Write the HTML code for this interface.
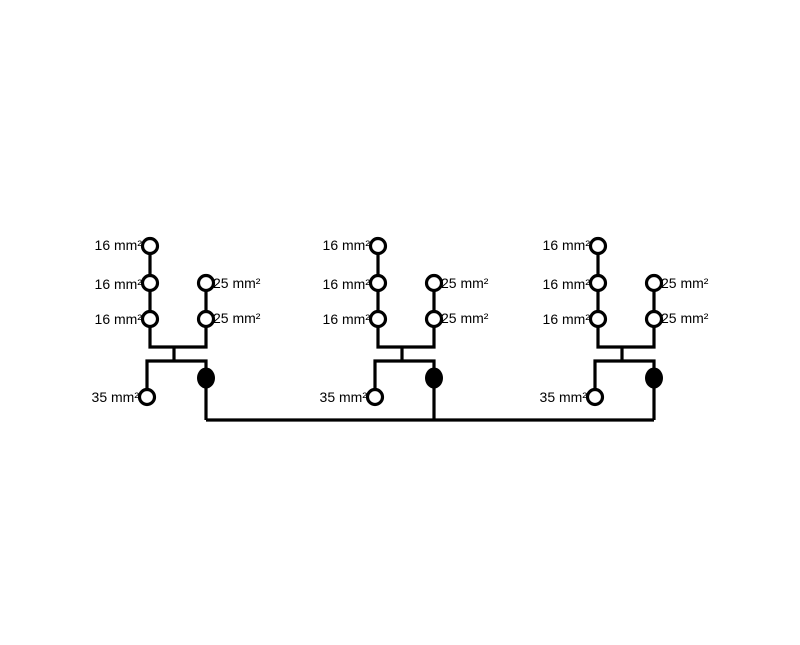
<!DOCTYPE html>
<html><head><style>body{margin:0;background:#fff}svg{display:block}</style></head><body>
<svg width="800" height="645" viewBox="0 0 800 645" xmlns="http://www.w3.org/2000/svg" font-family="Liberation Sans, sans-serif" font-size="14">
<defs>
<g id="m">
<path d="M0,246 V347 H56 V283 M24,347 V361 M-3,397 V361 H56 V420" fill="none" stroke="#000" stroke-width="3.2"/>
<g fill="#fff" stroke="#000" stroke-width="3.2">
<circle cx="0" cy="246" r="7.5"/><circle cx="0" cy="283" r="7.5"/><circle cx="0" cy="319" r="7.5"/>
<circle cx="56" cy="283" r="7.5"/><circle cx="56" cy="319" r="7.5"/><circle cx="-3" cy="397" r="7.5"/>
</g>
<ellipse cx="56" cy="378" rx="9" ry="10.5" fill="#000"/>
<g text-anchor="end"><text x="-8" y="250">16 mm²</text><text x="-8" y="289">16 mm²</text><text x="-8" y="324">16 mm²</text><text x="-11" y="402">35 mm²</text></g>
<text x="63" y="288">25 mm²</text><text x="63" y="323">25 mm²</text>
</g>
</defs>
<use href="#m" x="150"/>
<use href="#m" x="378"/>
<use href="#m" x="598"/>
<path d="M206,420 H654" stroke="#000" stroke-width="3.2"/>
</svg>
</body></html>
